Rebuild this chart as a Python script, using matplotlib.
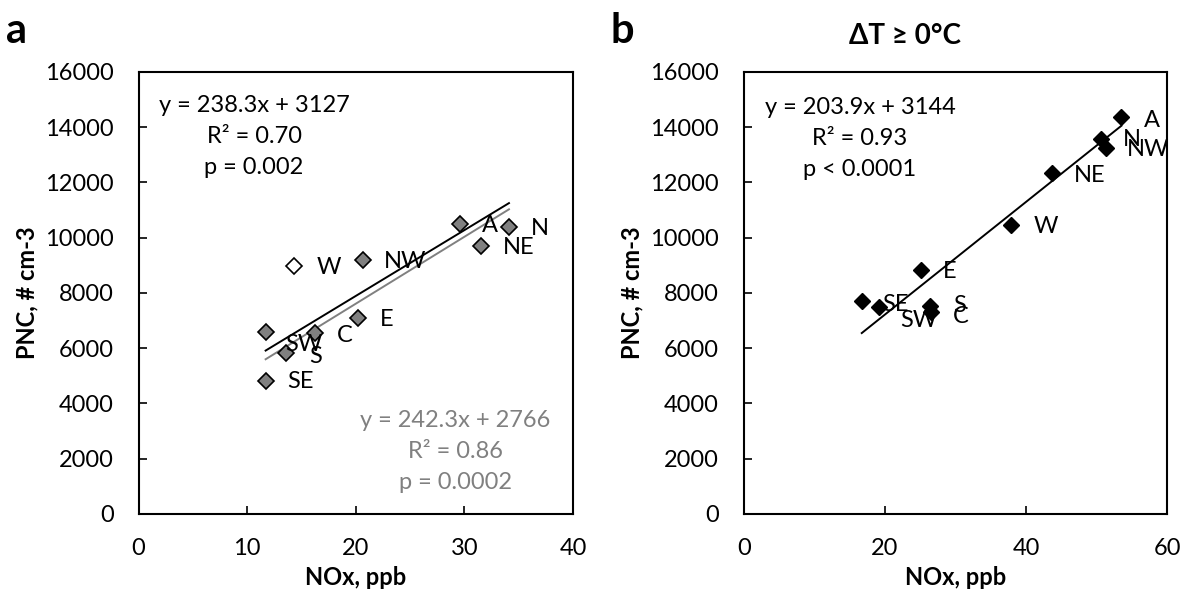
import matplotlib
matplotlib.use("Agg")
import matplotlib.pyplot as plt

plt.rcParams['font.family'] = ['Lato', 'DejaVu Sans']

# panel a: NOx vs PNC by wind sector (W excluded from grey fit)
a_labels = ['A', 'N', 'NE', 'NW', 'W', 'E', 'C', 'S', 'SW', 'SE']
a_nox = [29.6, 34.1, 31.5, 20.7, 14.3, 20.2, 16.2, 13.6, 11.7, 11.7]
a_pnc = [10500, 10400, 9710, 9190, 8990, 7110, 6560, 5820, 6600, 4830]
a_open = ['W']

# panel b: dT >= 0 C
b_labels = ['A', 'N', 'NW', 'NE', 'W', 'E', 'SE', 'SW', 'S', 'C']
b_nox = [53.5, 50.6, 51.3, 43.7, 37.9, 25.1, 16.7, 19.2, 26.4, 26.5]
b_pnc = [14380, 13580, 13260, 12330, 10460, 8830, 7720, 7480, 7530, 7300]

# regression lines (slope, intercept)
fit_all_a = (238.3, 3127)
fit_grey_a = (242.3, 2766)
fit_b = (203.9, 3144)

# label offsets in points
off_a = {'A': (21.6, -1), 'N': (22.3, -1), 'NE': (27, -1), 'NW': (30, -1), 'W': (25, -1),
         'E': (20.6, -1.6), 'C': (22, -1.7), 'S': (21, -2.4), 'SW': (27.6, -9.6), 'SE': (25, -1)}
off_b = {'A': (22, -2.4), 'N': (22, -0.7), 'NW': (30.7, -1.2), 'NE': (27, -1.2), 'W': (25, -1.2),
         'E': (20.4, -1.2), 'SE': (24.5, -2.4), 'SW': (28.3, -9.6), 'S': (21, 0), 'C': (21.6, -3.2)}

fig = plt.figure(figsize=(11.85, 5.92), dpi=100)
ax1 = fig.add_axes([0.1169, 0.1318, 0.3667, 0.7466])
ax2 = fig.add_axes([0.6278, 0.1318, 0.3572, 0.7466])

FS = 17
grey = '#808080'


def style(ax, xmax, xstep, ylab_x):
    ax.set_xlim(0, xmax)
    ax.set_ylim(0, 16000)
    ax.set_xticks(range(0, xmax + 1, xstep))
    ax.set_yticks(range(0, 16001, 2000))
    ax.tick_params(direction='in', length=6, width=1.2, labelsize=FS)
    ax.tick_params(axis='y', pad=18)
    ax.tick_params(axis='x', pad=17)
    for s in ax.spines.values():
        s.set_linewidth(1.5)
    ax.set_xlabel('NOx, ppb', fontsize=FS, fontweight='bold', labelpad=5)
    ax.set_ylabel('PNC, # cm-3', fontsize=FS, fontweight='bold')
    ax.yaxis.set_label_coords(ylab_x, 0.5)


# panel a
for lab, x, y in zip(a_labels, a_nox, a_pnc):
    fc = 'white' if lab in a_open else grey
    ax1.plot(x, y, 'D', ms=8, mfc=fc, mec='black', mew=1.2, zorder=3)
    ax1.annotate(lab, (x, y), xytext=off_a[lab], textcoords='offset points',
                 ha='center', va='center', fontsize=FS)
xs = [min(a_nox), max(a_nox)]
ax1.plot(xs, [fit_all_a[0] * v + fit_all_a[1] for v in xs], color='black', lw=1.4, zorder=2)
ax1.plot(xs, [fit_grey_a[0] * v + fit_grey_a[1] for v in xs], color=grey, lw=1.4, zorder=2)
style(ax1, 40, 10, -0.231)
ax1.text(0.266, 0.854, 'y = 238.3x + 3127\nR² = 0.70\np = 0.002', transform=ax1.transAxes,
         ha='center', va='center', fontsize=FS, linespacing=1.6)
ax1.text(0.729, 0.141, 'y = 242.3x + 2766\nR² = 0.86\np = 0.0002', transform=ax1.transAxes,
         ha='center', va='center', fontsize=FS, linespacing=1.6, color=grey)

# panel b
for lab, x, y in zip(b_labels, b_nox, b_pnc):
    ax2.plot(x, y, 'D', ms=8, mfc='black', mec='black', zorder=3)
    ax2.annotate(lab, (x, y), xytext=off_b[lab], textcoords='offset points',
                 ha='center', va='center', fontsize=FS)
xs = [min(b_nox), max(b_nox)]
ax2.plot(xs, [fit_b[0] * v + fit_b[1] for v in xs], color='black', lw=1.4, zorder=2)
style(ax2, 60, 20, -0.2386)
ax2.text(0.274, 0.850, 'y = 203.9x + 3144\nR² = 0.93\np < 0.0001', transform=ax2.transAxes,
         ha='center', va='center', fontsize=FS, linespacing=1.6)
fig.text(905 / 1185, 1 - 36 / 592, 'ΔT ≥ 0°C', fontsize=20, fontweight='bold',
         ha='center', va='center')

fig.text(0.014, 0.948, 'a', fontsize=30, fontweight='bold', va='center', ha='center')
fig.text(0.525, 0.948, 'b', fontsize=30, fontweight='bold', va='center', ha='center')

fig.savefig('out.png', dpi=100)
